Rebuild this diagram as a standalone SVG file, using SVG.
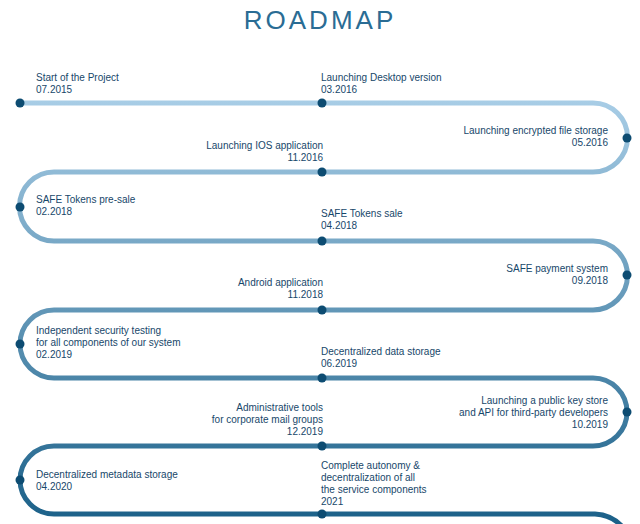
<svg xmlns="http://www.w3.org/2000/svg" width="640" height="524" viewBox="0 0 640 524">
<defs>
<linearGradient id="g" gradientUnits="userSpaceOnUse" x1="0" y1="100" x2="0" y2="520">
<stop offset="0" stop-color="#a8cde6"/><stop offset="1" stop-color="#1c6189"/>
</linearGradient>
</defs>
<style>
text{font-family:"Liberation Sans Narrow","Liberation Sans",Arial,sans-serif;font-size:10px;fill:#17476a}
.r{text-anchor:end}
.d{fill:#0d4c72}
</style>
<rect width="640" height="524" fill="#fff"/>
<text x="320" y="29" text-anchor="middle" style="font-size:26px;letter-spacing:3px;fill:#2a6c94;font-family:'Liberation Sans',sans-serif">ROADMAP</text>
<g id="connectors">
<path d="M20 103 H593 A34.5 34.5 0 0 1 593 172 H54 A34.5 34.5 0 0 0 54 241 H593 A34.5 34.5 0 0 1 593 310 H54 A34 34 0 0 0 54 378 H593 A34 34 0 0 1 593 446 H54 A34 34 0 0 0 54 514 H595 A40 40 0 0 1 625 530" fill="none" stroke="url(#g)" stroke-width="5"/>
</g>
<g id="n1"><circle class="d" cx="20" cy="103" r="4.5"/><text x="36" y="81">Start of the Project</text><text x="36" y="93">07.2015</text></g>
<g id="n2"><circle class="d" cx="322" cy="103" r="4.5"/><text x="321" y="81">Launching Desktop version</text><text x="321" y="93">03.2016</text></g>
<g id="n3"><circle class="d" cx="627" cy="138" r="4.5"/><text class="r" x="608" y="134">Launching encrypted file storage</text><text class="r" x="608" y="146">05.2016</text></g>
<g id="n4"><circle class="d" cx="322" cy="172" r="4.5"/><text class="r" x="323" y="149">Launching IOS application</text><text class="r" x="323" y="161">11.2016</text></g>
<g id="n5"><circle class="d" cx="20" cy="207" r="4.5"/><text x="36" y="203">SAFE Tokens pre-sale</text><text x="36" y="215">02.2018</text></g>
<g id="n6"><circle class="d" cx="322" cy="241" r="4.5"/><text x="321" y="217">SAFE Tokens sale</text><text x="321" y="229">04.2018</text></g>
<g id="n7"><circle class="d" cx="627" cy="275" r="4.5"/><text class="r" x="608" y="272">SAFE payment system</text><text class="r" x="608" y="284">09.2018</text></g>
<g id="n8"><circle class="d" cx="322" cy="310" r="4.5"/><text class="r" x="323" y="286">Android application</text><text class="r" x="323" y="298">11.2018</text></g>
<g id="n9"><circle class="d" cx="20" cy="344" r="4.5"/><text x="36" y="334">Independent security testing</text><text x="36" y="346">for all components of our system</text><text x="36" y="358">02.2019</text></g>
<g id="n10"><circle class="d" cx="322" cy="378" r="4.5"/><text x="321" y="355">Decentralized data storage</text><text x="321" y="367">06.2019</text></g>
<g id="n11"><circle class="d" cx="627" cy="412" r="4.5"/><text class="r" x="608" y="404">Launching a public key store</text><text class="r" x="608" y="416">and API for third-party developers</text><text class="r" x="608" y="428">10.2019</text></g>
<g id="n12"><circle class="d" cx="322" cy="446" r="4.5"/><text class="r" x="323" y="411">Administrative tools</text><text class="r" x="323" y="423">for corporate mail groups</text><text class="r" x="323" y="435">12.2019</text></g>
<g id="n13"><circle class="d" cx="20" cy="480" r="4.5"/><text x="36" y="478">Decentralized metadata storage</text><text x="36" y="490">04.2020</text></g>
<g id="n14"><circle class="d" cx="322" cy="514" r="4.5"/><text x="321" y="469">Complete autonomy &amp;</text><text x="321" y="481">decentralization of all</text><text x="321" y="493">the service components</text><text x="321" y="505">2021</text></g>
</svg>
